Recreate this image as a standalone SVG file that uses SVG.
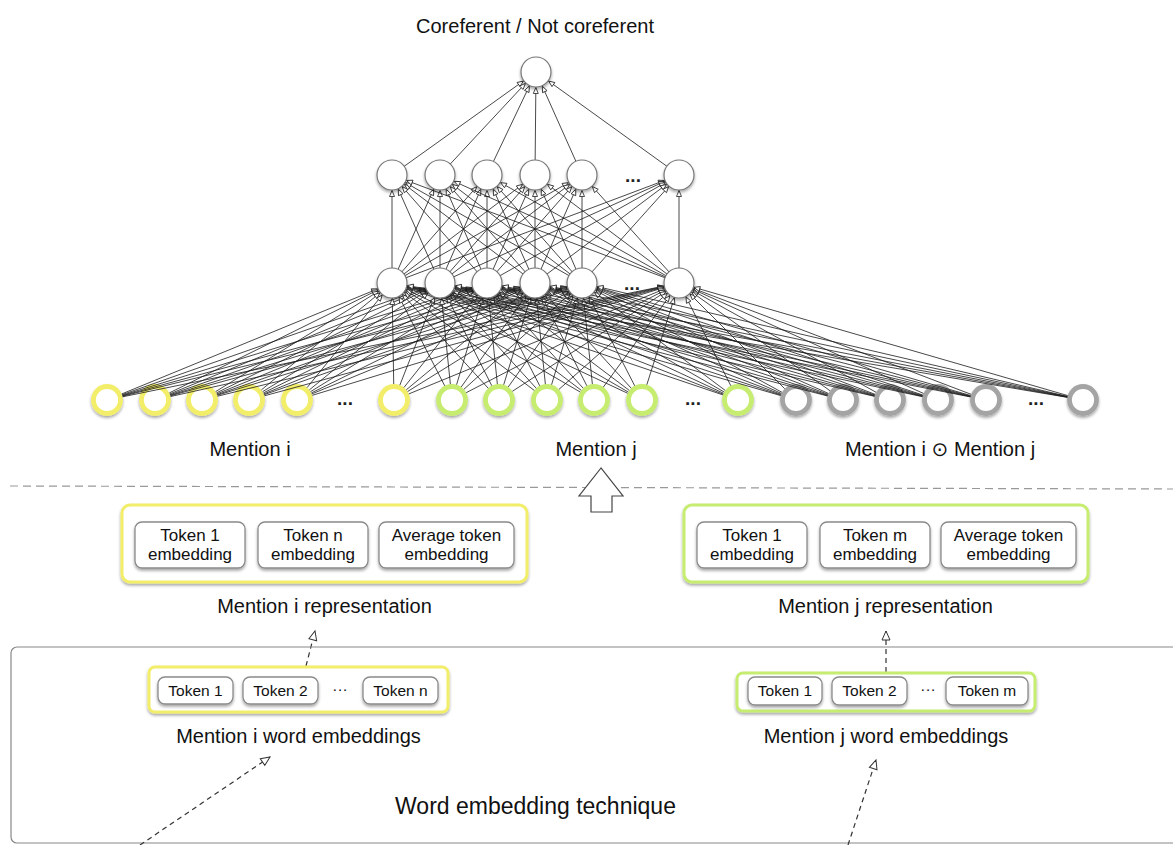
<svg xmlns="http://www.w3.org/2000/svg" width="1173" height="845" viewBox="0 0 1173 845">
  <defs>
    <filter id="shadow" x="-30%" y="-30%" width="160%" height="170%">
      <feDropShadow dx="0" dy="2" stdDeviation="1.4" flood-color="#000" flood-opacity="0.35"/>
    </filter>
    <!-- small hollow arrowhead, tip pulled back to the rim of a r=15.5 node -->
    <marker id="ah" markerUnits="userSpaceOnUse" markerWidth="8" markerHeight="6" refX="21.5" refY="2.5" orient="auto" overflow="visible">
      <path d="M0,0 L6,2.5 L0,5 z" fill="#fff" stroke="#222" stroke-width="0.8"/>
    </marker>
    <!-- hollow arrowhead for the dashed flow arrows -->
    <marker id="open" markerUnits="userSpaceOnUse" markerWidth="12" markerHeight="10" refX="9" refY="4" orient="auto" overflow="visible">
      <path d="M0,0 L9,4 L0,8 z" fill="#fff" stroke="#333" stroke-width="1"/>
    </marker>
  </defs>
  <style>
    text { font-family: "Liberation Sans", "DejaVu Sans", Arial, sans-serif; fill: #111; }
    .lbl { font-size: 20px; text-anchor: middle; }
    .tok { font-size: 17px; text-anchor: middle; }
    .wtok { font-size: 15.5px; text-anchor: middle; }
    .dots { font-size: 19px; font-weight: bold; text-anchor: middle; fill: #222; }
    .neuron { fill: #fff; stroke: #777; stroke-width: 1.2; filter: url(#shadow); }
    .inp { fill: #fff; stroke-width: 4.8; filter: url(#shadow); }
    .yl { stroke: #f2ee6a; }
    .gr { stroke: #c6ec70; }
    .gy { stroke: #a4a4a4; }
    .tokbox { fill: #fff; stroke: #8a8a8a; stroke-width: 1.3; filter: url(#shadow); }
    .grp { fill: #fff; stroke-width: 3; filter: url(#shadow); }
    .c { stroke: #1a1a1a; stroke-width: 0.8; fill: none; marker-end: url(#ah); }
    .cin { stroke-dasharray: 0 16 3000 0; }
    .flow { stroke: #333; stroke-width: 1.2; stroke-dasharray: 5 4; fill: none; marker-end: url(#open); }
  </style>

  <rect width="1173" height="845" fill="#fff"/>

  <!-- output label -->
  <text class="lbl" x="535" y="33">Coreferent / Not coreferent</text>

  <!-- input layer -->
  <g id="input-mention-i">
    <circle class="inp yl" cx="107" cy="400" r="13.5"/>
    <circle class="inp yl" cx="155" cy="400" r="13.5"/>
    <circle class="inp yl" cx="202" cy="400" r="13.5"/>
    <circle class="inp yl" cx="249" cy="400" r="13.5"/>
    <circle class="inp yl" cx="297" cy="400" r="13.5"/>
    <text class="dots" x="345" y="405">...</text>
    <circle class="inp yl" cx="394" cy="400" r="13.5"/>
  </g>
  <g id="input-mention-j">
    <circle class="inp gr" cx="452" cy="400" r="13.5"/>
    <circle class="inp gr" cx="499" cy="400" r="13.5"/>
    <circle class="inp gr" cx="547" cy="400" r="13.5"/>
    <circle class="inp gr" cx="594" cy="400" r="13.5"/>
    <circle class="inp gr" cx="642" cy="400" r="13.5"/>
    <text class="dots" x="693" y="405">...</text>
    <circle class="inp gr" cx="738" cy="400" r="13.5"/>
  </g>
  <g id="input-product">
    <circle class="inp gy" cx="796" cy="400" r="13.5"/>
    <circle class="inp gy" cx="843" cy="400" r="13.5"/>
    <circle class="inp gy" cx="890" cy="400" r="13.5"/>
    <circle class="inp gy" cx="938" cy="400" r="13.5"/>
    <circle class="inp gy" cx="986" cy="400" r="13.5"/>
    <text class="dots" x="1036" y="405">...</text>
    <circle class="inp gy" cx="1083" cy="400" r="13.5"/>
  </g>

  <!-- connectors -->
  <g id="connectors">
    <g class="c cin">
      <line x1="107" y1="400" x2="392" y2="283"/><line x1="107" y1="400" x2="440" y2="283"/><line x1="107" y1="400" x2="487" y2="283"/><line x1="107" y1="400" x2="535" y2="283"/><line x1="107" y1="400" x2="582" y2="283"/><line x1="107" y1="400" x2="679" y2="283"/>
      <line x1="155" y1="400" x2="392" y2="283"/><line x1="155" y1="400" x2="440" y2="283"/><line x1="155" y1="400" x2="487" y2="283"/><line x1="155" y1="400" x2="535" y2="283"/><line x1="155" y1="400" x2="582" y2="283"/><line x1="155" y1="400" x2="679" y2="283"/>
      <line x1="202" y1="400" x2="392" y2="283"/><line x1="202" y1="400" x2="440" y2="283"/><line x1="202" y1="400" x2="487" y2="283"/><line x1="202" y1="400" x2="535" y2="283"/><line x1="202" y1="400" x2="582" y2="283"/><line x1="202" y1="400" x2="679" y2="283"/>
      <line x1="249" y1="400" x2="392" y2="283"/><line x1="249" y1="400" x2="440" y2="283"/><line x1="249" y1="400" x2="487" y2="283"/><line x1="249" y1="400" x2="535" y2="283"/><line x1="249" y1="400" x2="582" y2="283"/><line x1="249" y1="400" x2="679" y2="283"/>
      <line x1="297" y1="400" x2="392" y2="283"/><line x1="297" y1="400" x2="440" y2="283"/><line x1="297" y1="400" x2="487" y2="283"/><line x1="297" y1="400" x2="535" y2="283"/><line x1="297" y1="400" x2="582" y2="283"/><line x1="297" y1="400" x2="679" y2="283"/>
      <line x1="394" y1="400" x2="392" y2="283"/><line x1="394" y1="400" x2="440" y2="283"/><line x1="394" y1="400" x2="487" y2="283"/><line x1="394" y1="400" x2="535" y2="283"/><line x1="394" y1="400" x2="582" y2="283"/><line x1="394" y1="400" x2="679" y2="283"/>
      <line x1="452" y1="400" x2="392" y2="283"/><line x1="452" y1="400" x2="440" y2="283"/><line x1="452" y1="400" x2="487" y2="283"/><line x1="452" y1="400" x2="535" y2="283"/><line x1="452" y1="400" x2="582" y2="283"/><line x1="452" y1="400" x2="679" y2="283"/>
      <line x1="499" y1="400" x2="392" y2="283"/><line x1="499" y1="400" x2="440" y2="283"/><line x1="499" y1="400" x2="487" y2="283"/><line x1="499" y1="400" x2="535" y2="283"/><line x1="499" y1="400" x2="582" y2="283"/><line x1="499" y1="400" x2="679" y2="283"/>
      <line x1="547" y1="400" x2="392" y2="283"/><line x1="547" y1="400" x2="440" y2="283"/><line x1="547" y1="400" x2="487" y2="283"/><line x1="547" y1="400" x2="535" y2="283"/><line x1="547" y1="400" x2="582" y2="283"/><line x1="547" y1="400" x2="679" y2="283"/>
      <line x1="594" y1="400" x2="392" y2="283"/><line x1="594" y1="400" x2="440" y2="283"/><line x1="594" y1="400" x2="487" y2="283"/><line x1="594" y1="400" x2="535" y2="283"/><line x1="594" y1="400" x2="582" y2="283"/><line x1="594" y1="400" x2="679" y2="283"/>
      <line x1="642" y1="400" x2="392" y2="283"/><line x1="642" y1="400" x2="440" y2="283"/><line x1="642" y1="400" x2="487" y2="283"/><line x1="642" y1="400" x2="535" y2="283"/><line x1="642" y1="400" x2="582" y2="283"/><line x1="642" y1="400" x2="679" y2="283"/>
      <line x1="738" y1="400" x2="392" y2="283"/><line x1="738" y1="400" x2="440" y2="283"/><line x1="738" y1="400" x2="487" y2="283"/><line x1="738" y1="400" x2="535" y2="283"/><line x1="738" y1="400" x2="582" y2="283"/><line x1="738" y1="400" x2="679" y2="283"/>
      <line x1="796" y1="400" x2="392" y2="283"/><line x1="796" y1="400" x2="440" y2="283"/><line x1="796" y1="400" x2="487" y2="283"/><line x1="796" y1="400" x2="535" y2="283"/><line x1="796" y1="400" x2="582" y2="283"/><line x1="796" y1="400" x2="679" y2="283"/>
      <line x1="843" y1="400" x2="392" y2="283"/><line x1="843" y1="400" x2="440" y2="283"/><line x1="843" y1="400" x2="487" y2="283"/><line x1="843" y1="400" x2="535" y2="283"/><line x1="843" y1="400" x2="582" y2="283"/><line x1="843" y1="400" x2="679" y2="283"/>
      <line x1="890" y1="400" x2="392" y2="283"/><line x1="890" y1="400" x2="440" y2="283"/><line x1="890" y1="400" x2="487" y2="283"/><line x1="890" y1="400" x2="535" y2="283"/><line x1="890" y1="400" x2="582" y2="283"/><line x1="890" y1="400" x2="679" y2="283"/>
      <line x1="938" y1="400" x2="392" y2="283"/><line x1="938" y1="400" x2="440" y2="283"/><line x1="938" y1="400" x2="487" y2="283"/><line x1="938" y1="400" x2="535" y2="283"/><line x1="938" y1="400" x2="582" y2="283"/><line x1="938" y1="400" x2="679" y2="283"/>
      <line x1="986" y1="400" x2="392" y2="283"/><line x1="986" y1="400" x2="440" y2="283"/><line x1="986" y1="400" x2="487" y2="283"/><line x1="986" y1="400" x2="535" y2="283"/><line x1="986" y1="400" x2="582" y2="283"/><line x1="986" y1="400" x2="679" y2="283"/>
      <line x1="1083" y1="400" x2="392" y2="283"/><line x1="1083" y1="400" x2="440" y2="283"/><line x1="1083" y1="400" x2="487" y2="283"/><line x1="1083" y1="400" x2="535" y2="283"/><line x1="1083" y1="400" x2="582" y2="283"/><line x1="1083" y1="400" x2="679" y2="283"/>
    </g>
    <g class="c">
      <line x1="392" y1="283" x2="392" y2="175"/><line x1="392" y1="283" x2="440" y2="175"/><line x1="392" y1="283" x2="487" y2="175"/><line x1="392" y1="283" x2="535" y2="175"/><line x1="392" y1="283" x2="582" y2="175"/><line x1="392" y1="283" x2="679" y2="175"/>
      <line x1="440" y1="283" x2="392" y2="175"/><line x1="440" y1="283" x2="440" y2="175"/><line x1="440" y1="283" x2="487" y2="175"/><line x1="440" y1="283" x2="535" y2="175"/><line x1="440" y1="283" x2="582" y2="175"/><line x1="440" y1="283" x2="679" y2="175"/>
      <line x1="487" y1="283" x2="392" y2="175"/><line x1="487" y1="283" x2="440" y2="175"/><line x1="487" y1="283" x2="487" y2="175"/><line x1="487" y1="283" x2="535" y2="175"/><line x1="487" y1="283" x2="582" y2="175"/><line x1="487" y1="283" x2="679" y2="175"/>
      <line x1="535" y1="283" x2="392" y2="175"/><line x1="535" y1="283" x2="440" y2="175"/><line x1="535" y1="283" x2="487" y2="175"/><line x1="535" y1="283" x2="535" y2="175"/><line x1="535" y1="283" x2="582" y2="175"/><line x1="535" y1="283" x2="679" y2="175"/>
      <line x1="582" y1="283" x2="392" y2="175"/><line x1="582" y1="283" x2="440" y2="175"/><line x1="582" y1="283" x2="487" y2="175"/><line x1="582" y1="283" x2="535" y2="175"/><line x1="582" y1="283" x2="582" y2="175"/><line x1="582" y1="283" x2="679" y2="175"/>
      <line x1="679" y1="283" x2="392" y2="175"/><line x1="679" y1="283" x2="440" y2="175"/><line x1="679" y1="283" x2="487" y2="175"/><line x1="679" y1="283" x2="535" y2="175"/><line x1="679" y1="283" x2="582" y2="175"/><line x1="679" y1="283" x2="679" y2="175"/>
      <line x1="392" y1="175" x2="536" y2="72"/><line x1="440" y1="175" x2="536" y2="72"/><line x1="487" y1="175" x2="536" y2="72"/><line x1="535" y1="175" x2="536" y2="72"/><line x1="582" y1="175" x2="536" y2="72"/><line x1="679" y1="175" x2="536" y2="72"/>
    </g>
    <!-- flow arrows between stages -->
    <line class="flow" x1="306" y1="666" x2="315" y2="631"/>
    <line class="flow" x1="886" y1="672" x2="886" y2="631"/>
  </g>

  <!-- hidden layers and output -->
  <g id="hidden-1">
    <circle class="neuron" cx="392" cy="283" r="15"/>
    <circle class="neuron" cx="440" cy="283" r="15"/>
    <circle class="neuron" cx="487" cy="283" r="15"/>
    <circle class="neuron" cx="535" cy="283" r="15"/>
    <circle class="neuron" cx="582" cy="283" r="15"/>
    <text class="dots" x="632" y="290">...</text>
    <circle class="neuron" cx="679" cy="283" r="15"/>
  </g>
  <g id="hidden-2">
    <circle class="neuron" cx="392" cy="175" r="15"/>
    <circle class="neuron" cx="440" cy="175" r="15"/>
    <circle class="neuron" cx="487" cy="175" r="15"/>
    <circle class="neuron" cx="535" cy="175" r="15"/>
    <circle class="neuron" cx="582" cy="175" r="15"/>
    <text class="dots" x="633" y="182">...</text>
    <circle class="neuron" cx="679" cy="175" r="15"/>
  </g>
  <g id="output">
    <circle class="neuron" cx="536" cy="72" r="15"/>
  </g>

  <!-- input group labels -->
  <text class="lbl" x="250" y="456">Mention i</text>
  <text class="lbl" x="596" y="456">Mention j</text>
  <text class="lbl" x="940" y="456">Mention i ⊙ Mention j</text>

  <!-- stage separator -->
  <line x1="10" y1="486" x2="1173" y2="489" stroke="#999" stroke-width="1.2" stroke-dasharray="8 5"/>
  <g id="up-arrow">
    <polygon points="601,468 579,496 591,496 591,512 612,512 612,496 623,496" fill="#fff" stroke="#444" stroke-width="1.2"/>
  </g>

  <!-- mention representations -->
  <g id="mention-i-representation">
    <rect class="grp" x="122" y="505" width="405" height="77" rx="8" stroke="#f2ee6a"/>
    <rect class="tokbox" x="135" y="522" width="110" height="46" rx="7"/>
    <text class="tok" x="190" y="541">Token 1</text>
    <text class="tok" x="190" y="560">embedding</text>
    <rect class="tokbox" x="258" y="522" width="110" height="46" rx="7"/>
    <text class="tok" x="313" y="541">Token n</text>
    <text class="tok" x="313" y="560">embedding</text>
    <rect class="tokbox" x="379" y="522" width="135" height="46" rx="7"/>
    <text class="tok" x="446.5" y="541">Average token</text>
    <text class="tok" x="446.5" y="560">embedding</text>
    <text class="lbl" x="324.5" y="613">Mention i representation</text>
  </g>
  <g id="mention-j-representation">
    <rect class="grp" x="684" y="505" width="404" height="77" rx="8" stroke="#c6ec70"/>
    <rect class="tokbox" x="697" y="522" width="110" height="46" rx="7"/>
    <text class="tok" x="752" y="541">Token 1</text>
    <text class="tok" x="752" y="560">embedding</text>
    <rect class="tokbox" x="820" y="522" width="110" height="46" rx="7"/>
    <text class="tok" x="875" y="541">Token m</text>
    <text class="tok" x="875" y="560">embedding</text>
    <rect class="tokbox" x="941" y="522" width="135" height="46" rx="7"/>
    <text class="tok" x="1008.5" y="541">Average token</text>
    <text class="tok" x="1008.5" y="560">embedding</text>
    <text class="lbl" x="885.5" y="613">Mention j representation</text>
  </g>

  <!-- word embedding stage -->
  <g id="word-embedding-technique">
    <rect x="11" y="647" width="1175" height="196" rx="6" fill="none" stroke="#888" stroke-width="1.2"/>
    <text x="535.5" y="814" font-size="23" text-anchor="middle">Word embedding technique</text>
  </g>
  <g id="mention-i-word-embeddings">
    <rect class="grp" x="149" y="667" width="299" height="45" rx="6" stroke="#f2ee6a"/>
    <rect class="tokbox" x="158" y="677" width="75" height="27" rx="7"/>
    <text class="wtok" x="195.5" y="696">Token 1</text>
    <rect class="tokbox" x="243" y="677" width="75" height="27" rx="7"/>
    <text class="wtok" x="280.5" y="696">Token 2</text>
    <text class="wtok" x="340" y="694">···</text>
    <rect class="tokbox" x="363" y="677" width="75" height="27" rx="7"/>
    <text class="wtok" x="400.5" y="696">Token n</text>
    <text class="lbl" x="298.5" y="743">Mention i word embeddings</text>
  </g>
  <g id="mention-j-word-embeddings">
    <rect class="grp" x="737" y="673" width="298" height="38" rx="6" stroke="#c6ec70"/>
    <rect class="tokbox" x="748" y="677" width="74" height="28" rx="7"/>
    <text class="wtok" x="785" y="696">Token 1</text>
    <rect class="tokbox" x="832" y="677" width="75" height="28" rx="7"/>
    <text class="wtok" x="869.5" y="696">Token 2</text>
    <text class="wtok" x="928" y="694">···</text>
    <rect class="tokbox" x="946" y="677" width="82" height="28" rx="7"/>
    <text class="wtok" x="987" y="696">Token m</text>
    <text class="lbl" x="886" y="743">Mention j word embeddings</text>
  </g>
  <g id="embedding-inputs">
    <line class="flow" x1="140" y1="845" x2="270" y2="757"/>
    <line class="flow" x1="848" y1="845" x2="876" y2="760"/>
  </g>
</svg>
